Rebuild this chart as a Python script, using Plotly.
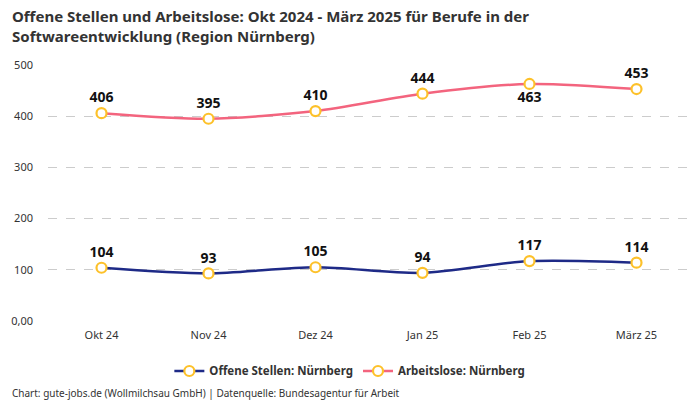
import plotly.graph_objects as go

months = ["Okt 24", "Nov 24", "Dez 24", "Jan 25", "Feb 25", "März 25"]
offene_stellen = [104, 93, 105, 94, 117, 114]
arbeitslose = [406, 395, 410, 444, 463, 453]
tick_vals = [0, 100, 200, 300, 400, 500]
tick_text = ["0,00", "100", "200", "300", "400", "500"]

FONT = "Noto Sans"
TEXT_COLOR = "#333333"
MARKER = dict(size=10, color="white", line=dict(color="#fdc12a", width=2.2))
LABEL_FONT = dict(family=FONT, size=14, color="#111111", weight="bold")

fig = go.Figure()
fig.add_trace(
    go.Scatter(
        x=months,
        y=offene_stellen,
        mode="lines+markers+text",
        name="Offene Stellen: Nürnberg",
        line=dict(color="#1e2a87", width=2.5, shape="spline", smoothing=0.8),
        marker=MARKER,
        text=[str(v) for v in offene_stellen],
        textposition="top center",
        textfont=LABEL_FONT,
        cliponaxis=False,
    )
)
# label positions: all above except the February value of the second series
arbeitslose_pos = ["top center"] * len(arbeitslose)
arbeitslose_pos[4] = "bottom center"
fig.add_trace(
    go.Scatter(
        x=months,
        y=arbeitslose,
        mode="lines+markers+text",
        name="Arbeitslose: Nürnberg",
        line=dict(color="#f3647e", width=2.5, shape="spline", smoothing=0.8),
        marker=MARKER,
        text=[str(v) for v in arbeitslose],
        textposition=arbeitslose_pos,
        textfont=LABEL_FONT,
        cliponaxis=False,
    )
)

# the page body adds an 8px margin, so the figure is 8px smaller each way
fig.update_layout(
    width=692,
    height=392,
    paper_bgcolor="white",
    plot_bgcolor="white",
    font=dict(family=FONT, color=TEXT_COLOR, size=11),
    margin=dict(l=40, r=10, t=57, b=79, autoexpand=False),
    showlegend=True,
    legend=dict(
        orientation="h",
        x=0.494,
        xanchor="center",
        xref="container",
        y=0.074,
        yanchor="middle",
        yref="container",
        font=dict(family=FONT, size=11.5, color=TEXT_COLOR, weight="bold"),
    ),
    xaxis=dict(
        range=[-0.5, 5.5],
        showgrid=False,
        showline=False,
        zeroline=False,
        ticks="",
        ticklabelstandoff=6,
        tickfont=dict(size=11, color=TEXT_COLOR),
    ),
    yaxis=dict(
        range=[0, 500],
        tickvals=tick_vals,
        ticktext=tick_text,
        showgrid=True,
        gridcolor="#cccccc",
        griddash="dash",
        gridwidth=1,
        zeroline=False,
        showline=False,
        ticks="",
        ticklabelstandoff=14,
        tickfont=dict(size=11, color=TEXT_COLOR),
    ),
    annotations=[
        dict(
            text="<b>Offene Stellen und Arbeitslose: Okt 2024 - März 2025 für Berufe in der<br>Softwareentwicklung (Region Nürnberg)</b>",
            xref="paper",
            yref="paper",
            x=-0.0592,
            y=1.238,
            xanchor="left",
            yanchor="top",
            align="left",
            showarrow=False,
            font=dict(family=FONT, size=15, color=TEXT_COLOR),
        ),
        dict(
            text="Chart: gute-jobs.de (Wollmilchsau GmbH) | Datenquelle: Bundesagentur für Arbeit",
            xref="paper",
            yref="paper",
            x=-0.0592,
            y=-0.281,
            xanchor="left",
            yanchor="middle",
            showarrow=False,
            font=dict(family=FONT, size=10, color=TEXT_COLOR),
        ),
    ],
)

fig.write_html("out.html")
